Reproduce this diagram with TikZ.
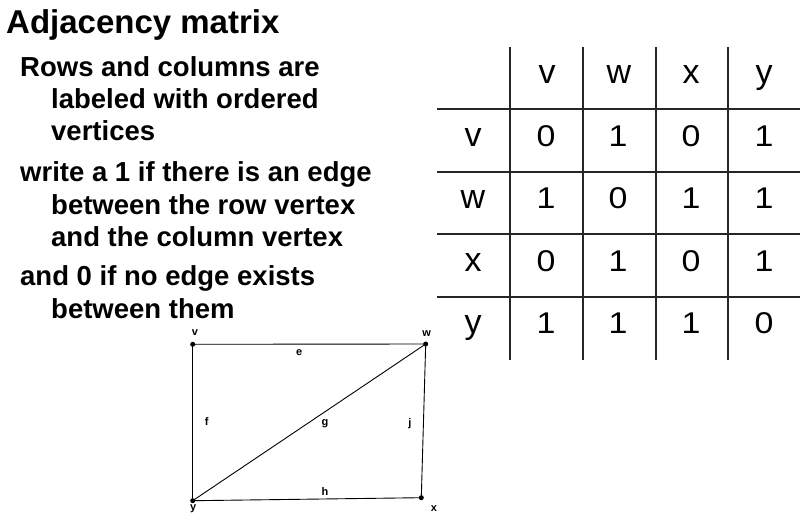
\documentclass[tikz,border=0pt]{standalone}
\usepackage{fontspec}
\setmainfont{Liberation Sans}
\usepackage{graphicx}
\usepackage{tikz}
\usetikzlibrary{positioning}

\newcommand{\widedigit}[1]{\scalebox{1.13}[1]{#1}}

\tikzset{
  bodyline/.style={anchor=base west,inner sep=0pt,font=\fontsize{27.5}{33}\selectfont\bfseries},
  cellnum/.style={anchor=base,inner sep=0pt,font=\fontsize{30}{35}\selectfont},
  cellname/.style={anchor=base,inner sep=0pt,font=\fontsize{34}{40}\selectfont},
  vertexdot/.style={circle,fill=black,inner sep=0pt,minimum size=5pt},
  smalllabel/.style={inner sep=0pt,font=\fontsize{11}{13}\selectfont\bfseries},
  gridline/.style={line width=1.2pt,black!85}
}

\begin{document}
\begin{tikzpicture}[x=1pt,y=-1pt]
    \useasboundingbox (0,0) rectangle (809,522);
    % Titolo e testo
    \node[anchor=base west,inner sep=0pt,font=\fontsize{33}{40}\selectfont\bfseries] (title) at (6,33) {Adjacency matrix};
    \node[bodyline] (l1) at (20,76) {Rows and columns are};
    \node[bodyline] (l2) at (51,108) {labeled with ordered};
    \node[bodyline] (l3) at (51,140) {vertices};
    \node[bodyline] (l4) at (20,181) {write a 1 if there is an edge};
    \node[bodyline] (l5) at (51,214) {between the row vertex};
    \node[bodyline] (l6) at (51,246) {and the column vertex};
    \node[bodyline] (l7) at (20,285) {and 0 if no edge exists};
    \node[bodyline] (l8) at (51,318) {between them};

    % Griglia della matrice
    \draw[gridline] (510,47) -- (510,360);
    \draw[gridline] (583,47) -- (583,360);
    \draw[gridline] (656,47) -- (656,360);
    \draw[gridline] (728,47) -- (728,360);
    \draw[gridline] (437,109) -- (800,109);
    \draw[gridline] (437,172) -- (800,172);
    \draw[gridline] (437,234) -- (800,234);
    \draw[gridline] (437,297) -- (800,297);

    % Intestazioni
    \node[cellname] (hv) at (547,83) {v};
    \node[cellname] (hw) at (619,83) {w};
    \node[cellname] (hx) at (691,83) {x};
    \node[cellname] (hy) at (764,83) {y};
    \node[cellname] (rv) at (473,146) {v};
    \node[cellname] (rw) at (473,208) {w};
    \node[cellname] (rx) at (473,271) {x};
    \node[cellname] (ry) at (473,333) {y};

    % Valori
    \node[cellnum] (vv) at (546,146) {\widedigit{0}};
    \node[cellnum] (vw) at (618,146) {\widedigit{1}};
    \node[cellnum] (vx) at (691,146) {\widedigit{0}};
    \node[cellnum] (vy) at (764,146) {\widedigit{1}};
    \node[cellnum] (wv) at (546,208) {\widedigit{1}};
    \node[cellnum] (ww) at (618,208) {\widedigit{0}};
    \node[cellnum] (wx) at (691,208) {\widedigit{1}};
    \node[cellnum] (wy) at (764,208) {\widedigit{1}};
    \node[cellnum] (xv) at (546,271) {\widedigit{0}};
    \node[cellnum] (xw) at (618,271) {\widedigit{1}};
    \node[cellnum] (xx) at (691,271) {\widedigit{0}};
    \node[cellnum] (xy) at (764,271) {\widedigit{1}};
    \node[cellnum] (yv) at (546,333) {\widedigit{1}};
    \node[cellnum] (yw) at (618,333) {\widedigit{1}};
    \node[cellnum] (yx) at (691,333) {\widedigit{1}};
    \node[cellnum] (yy) at (764,333) {\widedigit{0}};

    % Grafo
    \node[vertexdot] (v) at (192.7,344.3) {};
    \node[vertexdot] (w) at (425.7,344) {};
    \node[vertexdot] (x) at (421.3,497.7) {};
    \node[vertexdot] (y) at (192.7,500.7) {};
    \draw[line width=0.9pt] (v.center) -- (w.center);
    \draw[line width=0.9pt] (v.center) -- (y.center);
    \draw[line width=0.9pt] (w.center) -- (x.center);
    \draw[line width=0.9pt] (y.center) -- (x.center);
    \draw[line width=0.9pt] (y.center) -- (w.center);
    \node[smalllabel] (lv) at (195,333) {v};
    \node[smalllabel] (lw) at (426.7,334) {w};
    \node[smalllabel] (lx) at (434,509) {x};
    \node[smalllabel] (ly) at (193.3,509) {y};
    \node[smalllabel] (le) at (299.3,352.7) {e};
    \node[smalllabel] (lf) at (206.7,421.7) {f};
    \node[smalllabel] (lg) at (325,423.3) {g};
    \node[smalllabel] (lj) at (410,423.3) {j};
    \node[smalllabel] (lh) at (325,491.7) {h};
\end{tikzpicture}
\end{document}
